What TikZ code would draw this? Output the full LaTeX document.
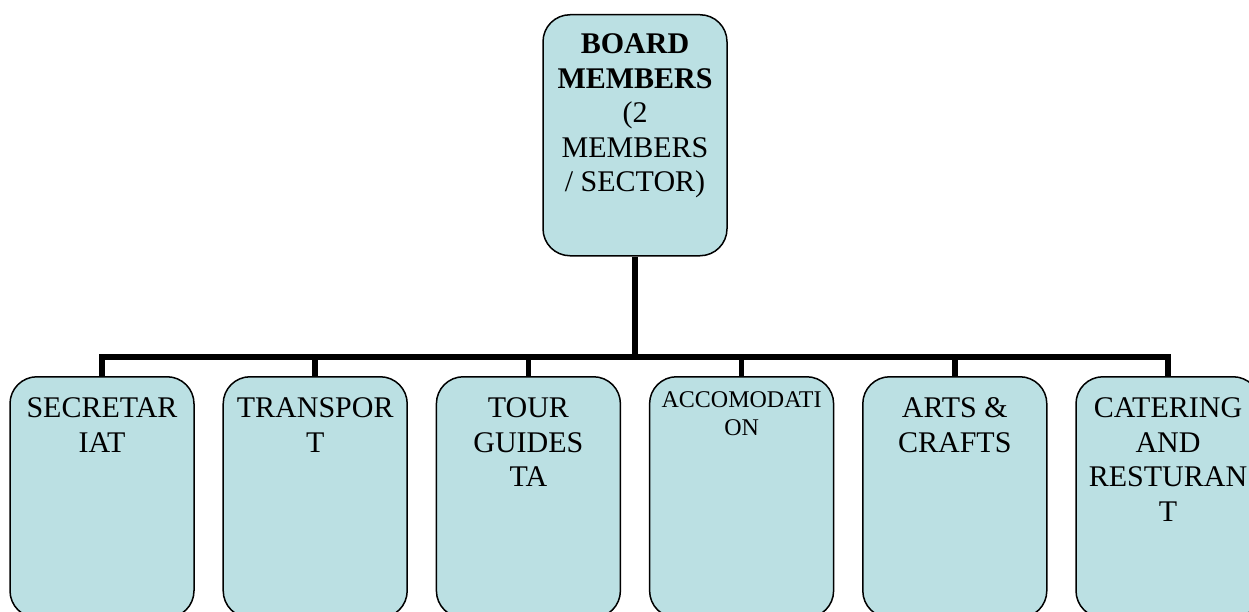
\documentclass[tikz,border=0pt]{standalone}
\usepackage{fontspec}
\setmainfont{Liberation Serif}
\definecolor{boxfill}{RGB}{187,224,227}
\newcommand\cardtxt[4]{\parbox[c][241pt][t]{184pt}{\centering\fontsize{#2}{#3}\selectfont\vspace*{#1}#4\par}}
\begin{document}
\begin{tikzpicture}[x=1pt,y=-1pt,
  card/.style={draw=black, line width=1.5pt, fill=boxfill, rounded corners=27pt,
    inner sep=0pt, anchor=north, minimum width=184pt, minimum height=241pt},
  conn/.style={draw=black, line width=5.5pt, line join=miter}]
\useasboundingbox (0,0) rectangle (1249,612);
\node[card] (top) at (635,14) {\cardtxt{19pt}{30}{34.5}{\textbf{BOARD}\\\textbf{MEMBERS}\\(2\\MEMBERS\\/ SECTOR)}};
\node[card] (b1) at (102,376) {\cardtxt{21pt}{30}{34.5}{SECRETAR\\IAT}};
\node[card] (b2) at (315.2,376) {\cardtxt{21pt}{30}{34.5}{TRANSPOR\\T}};
\node[card] (b3) at (528.4,376) {\cardtxt{21pt}{30}{34.5}{TOUR\\GUIDES\\TA}};
\node[card] (b4) at (741.6,376) {\cardtxt{15pt}{24}{28}{ACCOMODATI\\ON}};
\node[card] (b5) at (954.8,376) {\cardtxt{21pt}{30}{34.5}{ARTS \&\\CRAFTS}};
\node[card] (b6) at (1168,376) {\cardtxt{21pt}{30}{34.5}{CATERING\\AND\\RESTURAN\\T}};
\coordinate (bus) at (0,357);
\draw[conn] (top.south) -- (top.south |- bus);
\draw[conn] (b1.north) |- (b6.north |- bus) -- (b6.north);
\foreach \b in {b2,b3,b4,b5} { \draw[conn] (\b.north) -- (\b.north |- bus); }
\end{tikzpicture}
\end{document}
